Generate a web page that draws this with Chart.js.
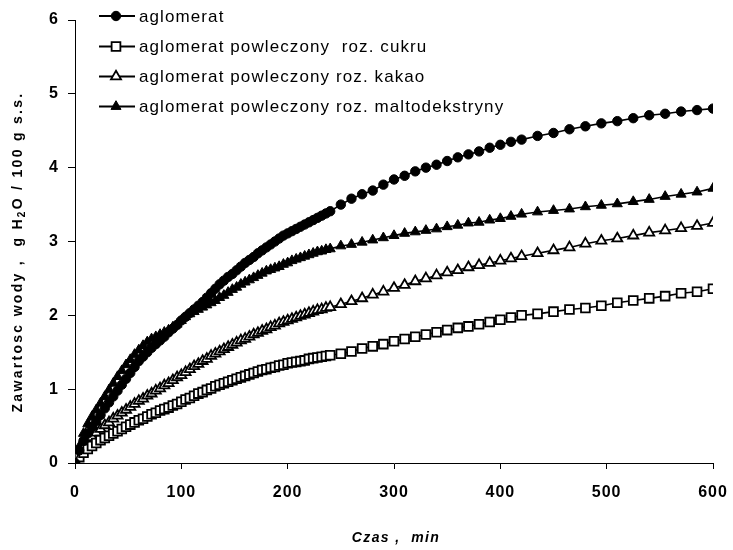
<!DOCTYPE html>
<html><head><meta charset="utf-8">
<script src="https://cdn.jsdelivr.net/npm/chart.js@4.4.1/dist/chart.umd.min.js"></script>
<style>html,body{margin:0;padding:0;background:#fff;}#wrap{width:733px;height:550px;}</style>
</head><body><div id="wrap"><canvas id="c" width="733" height="550"></canvas></div>
<script>
const times = [
  0,4,8,12,16,20,24,28,32,36,40,44,48,52,56,60,64,68,72,76,80,84,88,92,96,100,
  104,108,112,116,120,124,128,132,136,140,144,148,152,156,160,164,168,172,176,180,
  184,188,192,196,200,204,208,212,216,220,224,228,232,236,240,
  250,260,270,280,290,300,310,320,330,340,350,360,370,380,390,400,410,420,
  435,450,465,480,495,510,525,540,555,570,585,600
];
const seriesNames = [
  "aglomerat",
  "aglomerat powleczony  roz. cukru",
  "aglomerat powleczony roz. kakao",
  "aglomerat powleczony roz. maltodekstryny"
];
const aglomerat = [
  0,0.17,0.30,0.40,0.49,0.57,0.65,0.74,0.82,0.90,0.98,
  1.06,1.14,1.22,1.30,1.38, 1.44,1.50,1.56,1.61,1.66, 1.71,1.77,1.82,1.87,1.93,
  1.98,2.03,2.08,2.13,2.18, 2.24,2.30,2.36,2.42,2.47, 2.52,2.56,2.61,2.66,2.71,
  2.75,2.79,2.84,2.88,2.92, 2.96,3.00,3.04,3.08,3.11, 3.14,3.17,3.20,3.23,3.26,
  3.29,3.32,3.35,3.38,3.41,
  3.50,3.58,3.64,3.69,3.77,3.84,3.89,3.95,4.00,4.04,4.09,4.14,4.18,4.22,4.27,4.31,4.35,4.38,
  4.43,4.47,4.52,4.56,4.60,4.63,4.67,4.71,4.73,4.76,4.78,4.80
];
const cukru = [
  0,0.08,0.14,0.19,0.23,0.27,0.31,0.34,0.37,0.40,0.43,
  0.46,0.49,0.52,0.55,0.58, 0.60,0.63,0.66,0.68,0.71, 0.73,0.75,0.78,0.80,0.83,
  0.86,0.88,0.91,0.94,0.96, 0.99,1.01,1.04,1.06,1.08, 1.10,1.12,1.14,1.16,1.18,
  1.20,1.22,1.24,1.26,1.27, 1.29,1.30,1.32,1.33,1.35, 1.36,1.37,1.38,1.39,1.41,
  1.42,1.43,1.44,1.45,1.46,
  1.48,1.51,1.55,1.58,1.61,1.65,1.68,1.71,1.74,1.77,1.80,1.83,1.85,1.88,1.91,1.94,1.97,2.00,
  2.02,2.05,2.08,2.10,2.13,2.17,2.20,2.23,2.26,2.30,2.32,2.36
];
const kakao = [
  0,0.12,0.22,0.29,0.35,0.41,0.46,0.51,0.55,0.60,0.64,
  0.68,0.72,0.76,0.80,0.84, 0.87,0.91,0.94,0.98,1.01, 1.05,1.08,1.12,1.16,1.19,
  1.23,1.27,1.31,1.34,1.38, 1.41,1.45,1.48,1.51,1.54, 1.57,1.60,1.63,1.66,1.68,
  1.71,1.74,1.76,1.79,1.81, 1.84,1.86,1.89,1.91,1.93, 1.95,1.97,1.99,2.01,2.03,
  2.05,2.07,2.08,2.10,2.11,
  2.15,2.19,2.23,2.28,2.32,2.37,2.41,2.46,2.50,2.54,2.58,2.61,2.65,2.68,2.71,2.74,2.77,2.80,
  2.84,2.88,2.92,2.97,3.01,3.04,3.08,3.12,3.15,3.18,3.21,3.25
];
const maltodekstryny = [
  0,0.22,0.40,0.53,0.63,0.72,0.81,0.90,0.99,1.08,1.17,
  1.25,1.33,1.40,1.47,1.53, 1.59,1.64,1.68,1.71,1.74, 1.77,1.80,1.84,1.88,1.93,
  1.98,2.02,2.05,2.08,2.11, 2.14,2.17,2.20,2.24,2.27, 2.31,2.35,2.38,2.42,2.45,
  2.48,2.51,2.54,2.57,2.60, 2.62,2.64,2.66,2.69,2.71, 2.74,2.76,2.78,2.80,2.82,
  2.84,2.86,2.87,2.89,2.90,
  2.94,2.96,2.99,3.02,3.05,3.08,3.11,3.13,3.15,3.17,3.20,3.22,3.25,3.26,3.29,3.31,3.34,3.37,
  3.40,3.42,3.44,3.47,3.49,3.51,3.54,3.57,3.61,3.64,3.67,3.72
];
const xTicks = [0,100,200,300,400,500,600];
const yTicks = [0,1,2,3,4,5,6];
const xTitle = "Czas ,  min";
const yTitleParts = ["Zawartosc wody ,  g H", "2", "O / 100 g s.s."];

const pts = arr => times.map((t,i)=>({x:t,y:arr[i]}));
const styles = [
  {pointStyle:'circle', pointRadius:4.7, pointBackgroundColor:'#000', pointBorderWidth:1},
  {pointStyle:'rect', pointRadius:6.2, pointBackgroundColor:'#fff', pointBorderWidth:1.8},
  {pointStyle:'triangle', pointRadius:5.8, pointBackgroundColor:'#fff', pointBorderWidth:1.8},
  {pointStyle:'triangle', pointRadius:5.8, pointBackgroundColor:'#000', pointBorderWidth:1}
];
const allSeries = [aglomerat, cukru, kakao, maltodekstryny];
const datasets = allSeries.map((arr,i)=>Object.assign({
  label: seriesNames[i], data: pts(arr), borderColor:'#000', borderWidth:1.6,
  pointBorderColor:'#000', tension:0, fill:false
}, styles[i]));

const decor = {
  id:'decor',
  beforeDraw(chart){ chart.ctx.letterSpacing = '1px'; },
  afterDraw(chart){
    const ctx = chart.ctx;
    ctx.save();
    ctx.fillStyle = '#000';
    // legend
    const rowsY = [16, 46.5, 76.5, 106.5];
    ctx.letterSpacing = '1.1px';
    chart.data.datasets.forEach((ds,i)=>{
      const y = rowsY[i];
      ctx.strokeStyle = '#000'; ctx.lineWidth = 1.8;
      ctx.beginPath(); ctx.moveTo(99,y); ctx.lineTo(135,y); ctx.stroke();
      ctx.fillStyle = ds.pointBackgroundColor; ctx.strokeStyle='#000'; ctx.lineWidth = ds.pointBorderWidth;
      Chart.helpers.drawPoint(ctx, {pointStyle: ds.pointStyle, radius: ds.pointRadius, rotation:0, borderWidth: ds.pointBorderWidth}, 116, y);
      ctx.fillStyle = '#000';
      ctx.font = '17px "Liberation Sans", Arial, sans-serif';
      ctx.textAlign = 'left'; ctx.textBaseline = 'alphabetic';
      ctx.fillText(ds.label, 139, y + 5.5);
    });
    // x title
    ctx.letterSpacing = '1.4px';
    ctx.font = 'italic bold 14px "Liberation Sans", Arial, sans-serif';
    ctx.textAlign = 'center'; ctx.textBaseline = 'middle';
    ctx.fillText(xTitle, 396, 538);
    // y title
    ctx.letterSpacing = '2.3px';
    const fonts = ['bold 14px "Liberation Sans", Arial, sans-serif','bold 10px "Liberation Sans", Arial, sans-serif','bold 14px "Liberation Sans", Arial, sans-serif'];
    const dys = [0, 3, 0];
    let widths = yTitleParts.map((t,i)=>{ctx.font = fonts[i]; return ctx.measureText(t).width;});
    const total = widths.reduce((a,b)=>a+b,0);
    ctx.translate(22, 252); ctx.rotate(-Math.PI/2);
    ctx.textAlign = 'left'; ctx.textBaseline = 'alphabetic';
    let x = -total/2;
    yTitleParts.forEach((t,i)=>{ ctx.font = fonts[i]; ctx.fillText(t, x, dys[i]); x += widths[i]; });
    ctx.restore();
    ctx.letterSpacing = '0px';
  }
};

new Chart(document.getElementById('c'), {
  type:'line',
  data:{datasets},
  plugins:[decor],
  options:{
    responsive:false, animation:false, devicePixelRatio:1,
    layout:{padding:{left:0, right:20, top:20, bottom:0}},
    plugins:{legend:{display:false}, tooltip:{enabled:false}},
    scales:{
      x:{type:'linear', min:0, max:600,
        afterBuildTicks:s=>{ s.ticks = xTicks.map(v=>({value:v})); },
        afterFit:s=>{ s.height = 87; s.paddingLeft = 0; s.paddingRight = 0; },
        grid:{drawOnChartArea:false, drawTicks:true, tickLength:6, color:'#000', lineWidth:1},
        border:{display:true, color:'#000', width:1},
        ticks:{color:'#000', padding:14, font:{family:'"Liberation Sans", Arial, sans-serif', size:16, weight:'bold'}}
      },
      y:{type:'linear', min:0, max:6,
        afterBuildTicks:s=>{ s.ticks = yTicks.map(v=>({value:v})); },
        afterFit:s=>{ s.width = 75; s.paddingTop = 0; s.paddingBottom = 0; },
        grid:{drawOnChartArea:false, drawTicks:true, tickLength:7, color:'#000', lineWidth:1},
        border:{display:true, color:'#000', width:1},
        ticks:{color:'#000', padding:9, font:{family:'"Liberation Sans", Arial, sans-serif', size:16, weight:'bold'}}
      }
    }
  }
});
</script></body></html>
